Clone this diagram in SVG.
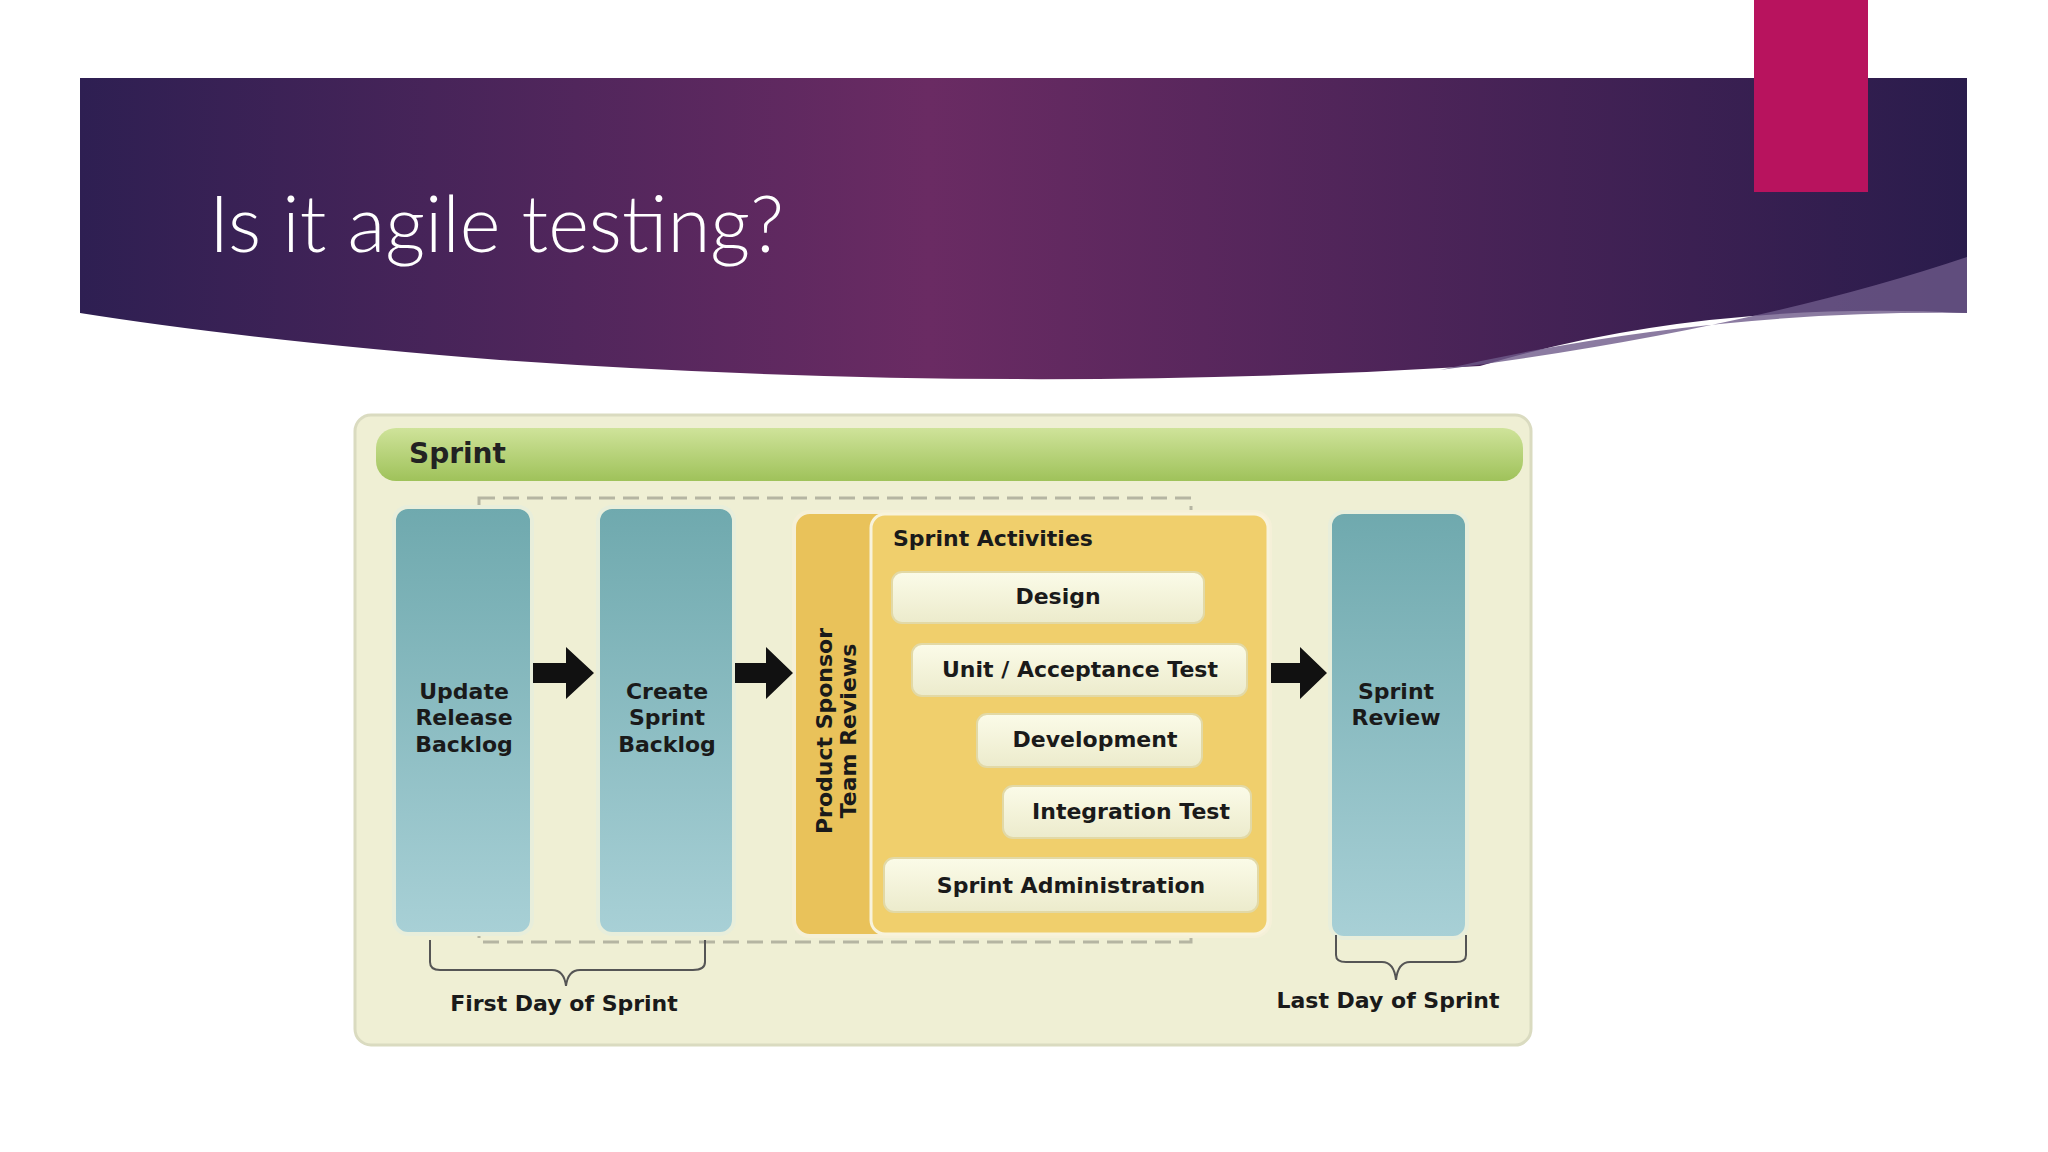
<svg xmlns="http://www.w3.org/2000/svg" width="2048" height="1152" viewBox="0 0 2048 1152">
<defs>
<linearGradient id="hdr" x1="0" y1="0" x2="1" y2="0">
<stop offset="0" stop-color="#2e1f52"/><stop offset="0.45" stop-color="#6a2b63"/><stop offset="1" stop-color="#2a1c4c"/>
</linearGradient>
<linearGradient id="col" x1="0" y1="0" x2="0" y2="1">
<stop offset="0" stop-color="#6fa9ae"/><stop offset="1" stop-color="#a8d0d6"/>
</linearGradient>
<linearGradient id="grn" x1="0" y1="0" x2="0" y2="1">
<stop offset="0" stop-color="#cfe39a"/><stop offset="1" stop-color="#9fc25a"/>
</linearGradient>
<linearGradient id="box" x1="0" y1="0" x2="0" y2="1">
<stop offset="0" stop-color="#fbfbe8"/><stop offset="1" stop-color="#ecebcc"/>
</linearGradient>
<marker id="ah" markerWidth="4" markerHeight="4" refX="2" refY="2" orient="auto"/>
</defs>
<style>
.t{font-family:"DejaVu Sans",sans-serif;font-weight:bold;font-size:22px;fill:#1a1a1a;text-anchor:middle}
.col{fill:url(#col);stroke:#e8eedb;stroke-width:4}
.act{fill:url(#box);stroke:#e2d9a6;stroke-width:2}
.arr{fill:#111}
.br{fill:none;stroke:#555;stroke-width:2}
</style>
<rect width="2048" height="1152" fill="#fff"/>
<path d="M80 78 H1967 V313 Q1700 300 1480 366 Q1000 395 500 360 Q250 340 80 313 Z" fill="url(#hdr)"/>
<path d="M1440 370 Q1750 330 1967 257 V313 Q1700 310 1440 370 Z" fill="#6e5a8a" opacity="0.8"/>
<rect x="1754" y="0" width="114" height="192" fill="#b8135e"/>
<text x="209" y="252" font-family="Lato, 'Open Sans', sans-serif" font-weight="300" font-size="78" fill="#fff">Is it agile testing?</text>

<g id="panel">
<rect x="355" y="415" width="1176" height="630" rx="16" fill="#efefd4" stroke="#dadbc0" stroke-width="3"/>
<rect x="376" y="428" width="1147" height="53" rx="20" fill="url(#grn)"/>
<text x="409" y="463" font-family="DejaVu Sans, sans-serif" font-weight="bold" font-size="28" fill="#222">Sprint</text>
</g>
<rect x="479" y="498" width="712" height="444" fill="none" stroke="#b5b5a2" stroke-width="3" stroke-dasharray="16 8"/>

<g id="n1"><rect class="col" x="394" y="507" width="138" height="427" rx="14"/>
<text class="t"><tspan x="464" y="699">Update</tspan><tspan x="464" y="725">Release</tspan><tspan x="464" y="752">Backlog</tspan></text></g>
<g id="n2"><rect class="col" x="598" y="507" width="136" height="427" rx="14"/>
<text class="t"><tspan x="667" y="699">Create</tspan><tspan x="667" y="725">Sprint</tspan><tspan x="667" y="752">Backlog</tspan></text></g>

<g id="n3">
<rect x="794" y="512" width="476" height="424" rx="16" fill="#e9c25a" stroke="#f5f0d8" stroke-width="4"/>
<rect x="871" y="514" width="397" height="420" rx="14" fill="#f0cf6c" stroke="#f8f3dc" stroke-width="3"/>
<text class="t" transform="translate(836 731) rotate(-90)"><tspan x="0" y="-4">Product Sponsor</tspan><tspan x="0" y="20">Team Reviews</tspan></text>
<text x="893" y="546" font-family="DejaVu Sans, sans-serif" font-weight="bold" font-size="22" fill="#1a1a1a">Sprint Activities</text>
</g>
<g id="design"><rect class="act" x="892" y="572" width="312" height="51" rx="10"/><text class="t" x="1058" y="604">Design</text></g>
<g id="unit"><rect class="act" x="912" y="644" width="335" height="52" rx="10"/><text class="t" x="1080" y="677">Unit / Acceptance Test</text></g>
<g id="dev"><rect class="act" x="977" y="714" width="225" height="53" rx="10"/><text class="t" x="1095" y="747">Development</text></g>
<g id="integ"><rect class="act" x="1003" y="786" width="248" height="52" rx="10"/><text class="t" x="1131" y="819">Integration Test</text></g>
<g id="admin"><rect class="act" x="884" y="858" width="374" height="54" rx="10"/><text class="t" x="1071" y="893">Sprint Administration</text></g>

<g id="n4"><rect class="col" x="1330" y="512" width="137" height="426" rx="14"/>
<text class="t"><tspan x="1396" y="699">Sprint</tspan><tspan x="1396" y="725">Review</tspan></text></g>

<g id="connectors">
<path class="arr" d="M533 663 H566 V647 L594 673 L566 699 V683 H533 Z"/>
<path class="arr" d="M735 663 H766 V647 L793 673 L766 699 V683 H735 Z"/>
<path class="arr" d="M1271 663 H1300 V647 L1327 673 L1300 699 V683 H1271 Z"/>
<path class="br" d="M430 940 V962 Q430 970 440 970 H552 Q564 970 566 986 Q568 970 580 970 H693 Q705 970 705 962 V940"/>
<path class="br" d="M1336 935 V955 Q1336 962 1346 962 H1382 Q1394 962 1396 980 Q1398 962 1410 962 H1456 Q1466 962 1466 955 V935"/>
</g>
<text class="t" x="564" y="1011">First Day of Sprint</text>
<text class="t" x="1388" y="1008">Last Day of Sprint</text>
</svg>
